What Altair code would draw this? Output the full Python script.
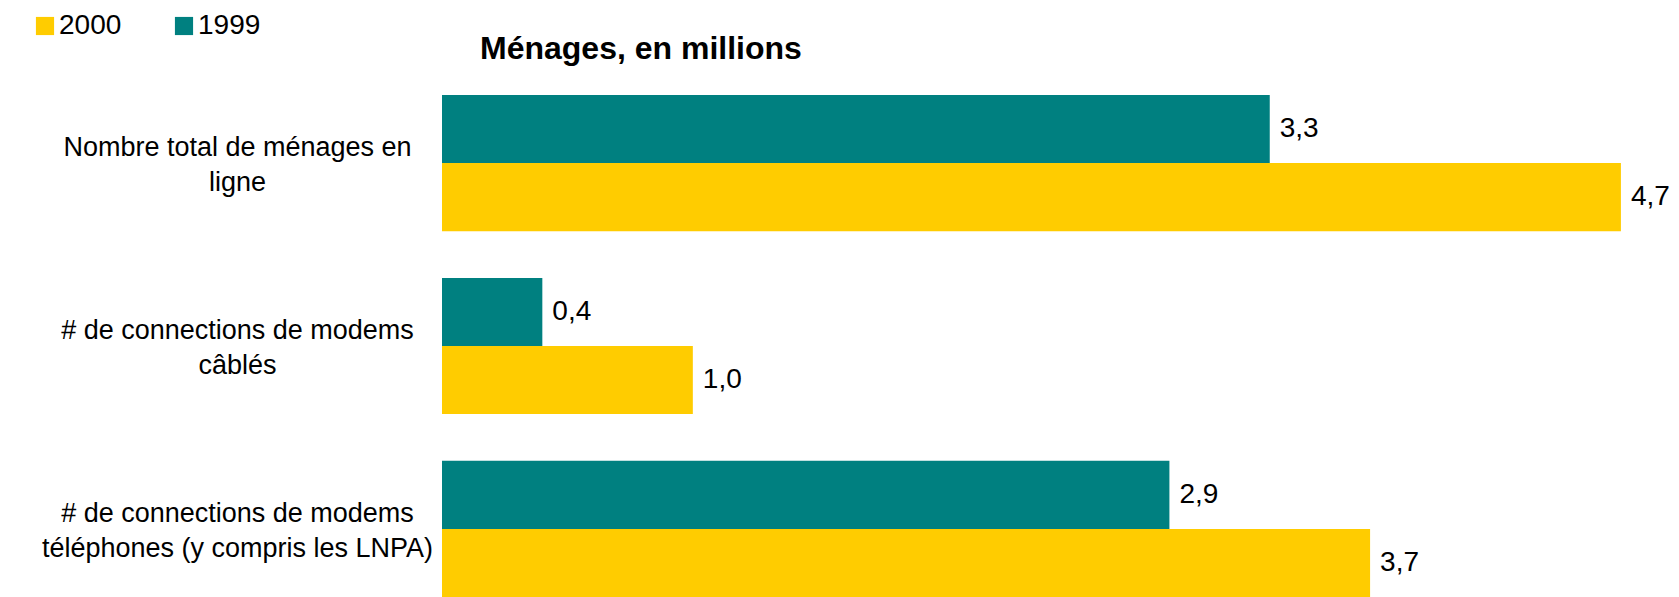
import altair as alt
import pandas as pd

# --- data ---
categories = [
    ["Nombre total de ménages en", "ligne"],
    ["# de connections de modems", "câblés"],
    ["# de connections de modems", "téléphones (y compris les LNPA)"],
]
series_order = ["1999", "2000"]      # order inside each group (top -> bottom)
legend_order = ["2000", "1999"]
values_1999 = [3.3, 0.4, 2.9]
values_2000 = [4.7, 1.0, 3.7]
title_text = ["Ménages, en millions"]

cat_keys = ["|".join(c) for c in categories]
rows = []
for key, v99, v00 in zip(cat_keys, values_1999, values_2000):
    rows.append({"cat": key, "series": "1999", "value": v99})
    rows.append({"cat": key, "series": "2000", "value": v00})
df = pd.DataFrame(rows)
df["label"] = df["value"].map(lambda v: f"{v:.1f}".replace(".", ","))

FONT = "Liberation Sans"
TEAL = "#008080"
YELLOW = "#FFCC00"

y_enc = alt.Y(
    "cat:N",
    sort=cat_keys,
    scale=alt.Scale(paddingInner=0.255, paddingOuter=0),
    axis=alt.Axis(
        title=None,
        domain=False,
        ticks=False,
        labelExpr="split(datum.label, '|')",
        labelAlign="center",
        labelBaseline="middle",
        labelPadding=205,
        labelOffset=-15,
        labelFontSize=27,
        labelFont=FONT,
        labelColor="#000000",
        labelLineHeight=35,
        labelLimit=0,
    ),
)
yoff_enc = alt.YOffset("series:N", sort=series_order, scale=alt.Scale(paddingInner=0, paddingOuter=0))
x_enc = alt.X("value:Q", scale=alt.Scale(domain=[0, 4.8], nice=False), axis=None)

bars = alt.Chart(df).mark_bar().encode(
    x=x_enc,
    y=y_enc,
    yOffset=yoff_enc,
    color=alt.Color(
        "series:N",
        scale=alt.Scale(domain=legend_order, range=[YELLOW, TEAL]),
        title=None,
        legend=alt.Legend(
            orient="none",
            legendX=-411,
            legendY=-83,
            direction="horizontal",
            symbolType="square",
            symbolSize=330,
            symbolStrokeWidth=0,
            symbolOpacity=1,
            labelFontSize=28,
            labelFont=FONT,
            labelColor="#000000",
            labelOffset=0,
            columnPadding=48,
            padding=0,
        ),
    ),
)

labels = alt.Chart(df).mark_text(
    align="left", baseline="middle", dx=10, fontSize=28, font=FONT, color="#000000"
).encode(
    x=x_enc,
    y=y_enc,
    yOffset=yoff_enc,
    text="label:N",
)

title_df = pd.DataFrame({"t": title_text})
title = alt.Chart(title_df).mark_text(
    align="left", baseline="alphabetic", fontSize=32, fontWeight="bold",
    font=FONT, color="#000000"
).encode(
    x=alt.value(38),
    y=alt.value(-36),
    text="t:N",
)

chart = (
    alt.layer(bars, labels, title)
    .properties(
        width=1204,
        height=502,
        autosize=alt.AutoSizeParams(type="none"),
        padding={"left": 434, "top": 87, "right": 25, "bottom": 0},
    )
    .configure_view(strokeWidth=0)
)

chart.save("out.html", embed_options={"renderer": "svg", "actions": False})
